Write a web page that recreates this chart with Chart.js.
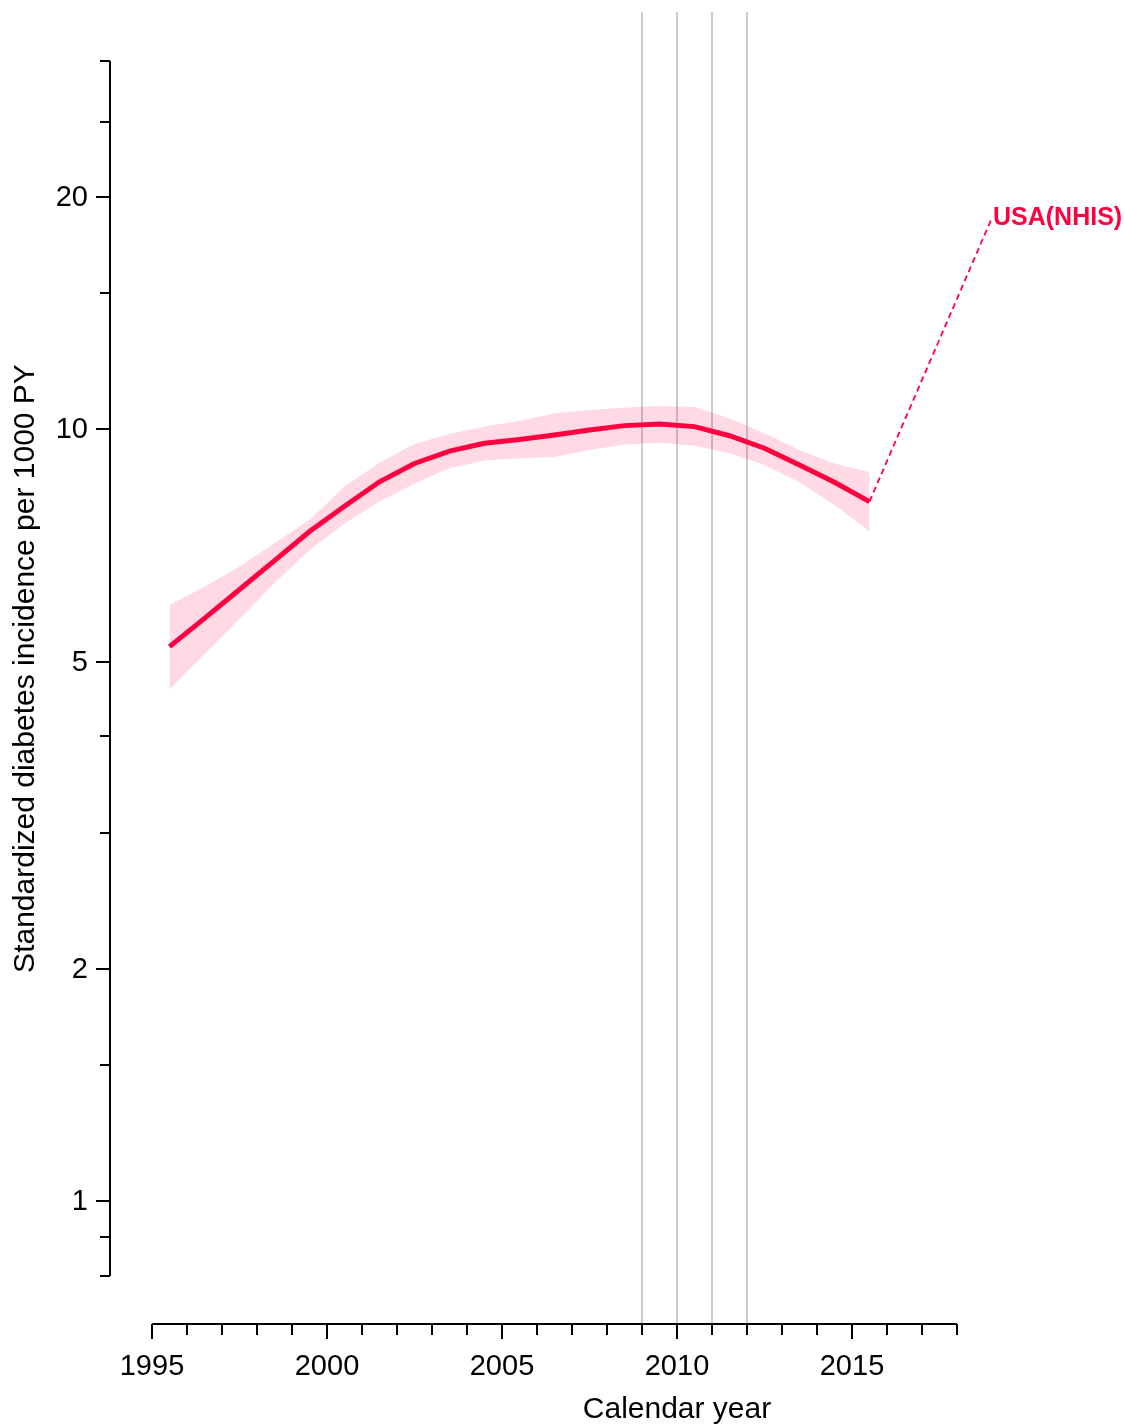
<!DOCTYPE html>
<html>
<head>
<meta charset="utf-8">
<script src="https://cdn.jsdelivr.net/npm/chart.js@4.4.0/dist/chart.umd.min.js"></script>
<style>
body { margin: 0; background: #ffffff; }
#contenedor { width: 1125px; height: 1428px; position: relative; }
</style>
</head>
<body>
<div id="contenedor"><canvas id="graficoLineal"></canvas></div>
<script>
// datos (incidencia estandarizada por 1000 PY)
const anios = [1995.5, 1996.5, 1997.5, 1998.5, 1999.5, 2000.5, 2001.5, 2002.5, 2003.5, 2004.5,
    2005.5, 2006.5, 2007.5, 2008.5, 2009.5, 2010.5, 2011.5, 2012.5, 2013.5, 2014.5, 2015.5];
const incidencia = [5.23, 5.69, 6.20, 6.76, 7.37, 7.95, 8.55, 9.03, 9.37, 9.59,
    9.70, 9.83, 9.98, 10.11, 10.16, 10.08, 9.81, 9.45, 8.99, 8.54, 8.06];
const limiteSup = [5.92, 6.25, 6.64, 7.12, 7.63, 8.43, 9.05, 9.57, 9.86, 10.08,
    10.25, 10.49, 10.59, 10.66, 10.72, 10.69, 10.33, 9.88, 9.40, 9.03, 8.80];
const limiteInf = [4.60, 5.11, 5.68, 6.32, 6.97, 7.55, 8.06, 8.51, 8.90, 9.11,
    9.17, 9.21, 9.40, 9.56, 9.61, 9.52, 9.31, 8.99, 8.54, 7.98, 7.37];

const lineasVerticales = [2009, 2010, 2011, 2012];
const ticksY = [0.8, 0.9, 1, 1.5, 2, 3, 4, 5, 10, 15, 20, 25, 30];
const etiquetasY = [1, 2, 5, 10, 20];
const ticksX = [];
for (let a = 1995; a <= 2018; a++) ticksX.push(a);
const etiquetasX = [1995, 2000, 2005, 2010, 2015];
const nombreSerie = 'USA(NHIS)';
const posEtiqueta = [2019, 18.8];

const ROJO = 'rgb(255, 0, 64)';
const FUENTE = '"Liberation Sans", Arial, sans-serif';

function puntos(valores) {
    return anios.map((a, i) => ({ x: a, y: valores[i] }));
}

const ejesPlugin = {
    id: 'ejes',
    beforeDatasetsDraw(chart) {
        const { ctx, chartArea, scales } = chart;
        ctx.save();
        ctx.strokeStyle = '#cccccc';
        ctx.lineWidth = 2;
        for (let v of lineasVerticales) {
            const px = Math.round(scales.x.getPixelForValue(v));
            ctx.beginPath();
            ctx.moveTo(px, chartArea.top - 49);
            ctx.lineTo(px, chartArea.bottom + 48);
            ctx.stroke();
        }
        ctx.restore();
    },
    afterDraw(chart) {
        const { ctx, chartArea, scales } = chart;
        const x = scales.x, y = scales.y;
        ctx.save();
        ctx.strokeStyle = '#000000';
        ctx.fillStyle = '#000000';
        ctx.lineWidth = 2;
        ctx.font = '29px ' + FUENTE;

        // eje y
        const ejeX = chartArea.left;
        ctx.beginPath();
        ctx.moveTo(ejeX, y.getPixelForValue(ticksY[ticksY.length - 1]));
        ctx.lineTo(ejeX, y.getPixelForValue(ticksY[0]));
        ctx.stroke();
        ctx.textAlign = 'right';
        ctx.textBaseline = 'middle';
        for (let v of ticksY) {
            const py = Math.round(y.getPixelForValue(v));
            const mayor = etiquetasY.includes(v);
            ctx.beginPath();
            ctx.moveTo(ejeX - (mayor ? 14 : 10), py);
            ctx.lineTo(ejeX, py);
            ctx.stroke();
            if (mayor) ctx.fillText(String(v), ejeX - 22, py + 1);
        }

        // eje x
        const ejeY = chartArea.bottom + 48;
        ctx.beginPath();
        ctx.moveTo(x.getPixelForValue(ticksX[0]), ejeY);
        ctx.lineTo(x.getPixelForValue(ticksX[ticksX.length - 1]), ejeY);
        ctx.stroke();
        ctx.textAlign = 'center';
        for (let v of ticksX) {
            const px = Math.round(x.getPixelForValue(v));
            const mayor = etiquetasX.includes(v);
            ctx.beginPath();
            ctx.moveTo(px, ejeY);
            ctx.lineTo(px, ejeY + (mayor ? 15 : 11));
            ctx.stroke();
            if (mayor) ctx.fillText(String(v), px, ejeY + 43);
        }

        // titulos
        ctx.font = '30px ' + FUENTE;
        ctx.fillText('Calendar year', x.getPixelForValue(2010), ejeY + 86);
        ctx.translate(26, (chartArea.top + chartArea.bottom) / 2);
        ctx.rotate(-Math.PI / 2);
        ctx.fillText('Standardized diabetes incidence per 1000 PY', 0, 0);
        ctx.restore();

        // etiqueta de la serie
        ctx.save();
        ctx.fillStyle = ROJO;
        ctx.font = 'bold 25px ' + FUENTE;
        ctx.textAlign = 'left';
        ctx.textBaseline = 'middle';
        ctx.fillText(nombreSerie, x.getPixelForValue(posEtiqueta[0]) + 1, y.getPixelForValue(posEtiqueta[1]));
        ctx.restore();
    }
};

function mostrarGrafico() {
    const ctx = document.getElementById('graficoLineal').getContext('2d');
    new Chart(ctx, {
        type: 'line',
        data: {
            datasets: [
                {
                    data: puntos(incidencia),
                    borderColor: ROJO,
                    borderWidth: 5,
                    pointRadius: 0,
                    fill: false,
                    order: 0
                },
                {
                    data: [{ x: anios[anios.length - 1], y: incidencia[incidencia.length - 1] },
                           { x: posEtiqueta[0], y: posEtiqueta[1] }],
                    borderColor: ROJO,
                    borderWidth: 1.8,
                    borderDash: [6, 4],
                    pointRadius: 0,
                    fill: false,
                    clip: false,
                    order: 1
                },
                {
                    data: puntos(limiteSup),
                    borderWidth: 0,
                    borderColor: 'transparent',
                    backgroundColor: 'rgba(255, 0, 64, 0.15)',
                    pointRadius: 0,
                    fill: '+1',
                    order: 2
                },
                {
                    data: puntos(limiteInf),
                    borderWidth: 0,
                    borderColor: 'transparent',
                    pointRadius: 0,
                    fill: false,
                    order: 3
                }
            ]
        },
        options: {
            responsive: true,
            maintainAspectRatio: false,
            animation: false,
            layout: { padding: { left: 110, right: 168, top: 61, bottom: 152 } },
            plugins: {
                legend: { display: false },
                tooltip: { enabled: false }
            },
            scales: {
                x: { type: 'linear', min: 1993.8, max: 2018, display: false },
                y: { type: 'logarithmic', min: 0.8, max: 30, display: false }
            }
        },
        plugins: [ejesPlugin]
    });
}

mostrarGrafico();
</script>
</body>
</html>
